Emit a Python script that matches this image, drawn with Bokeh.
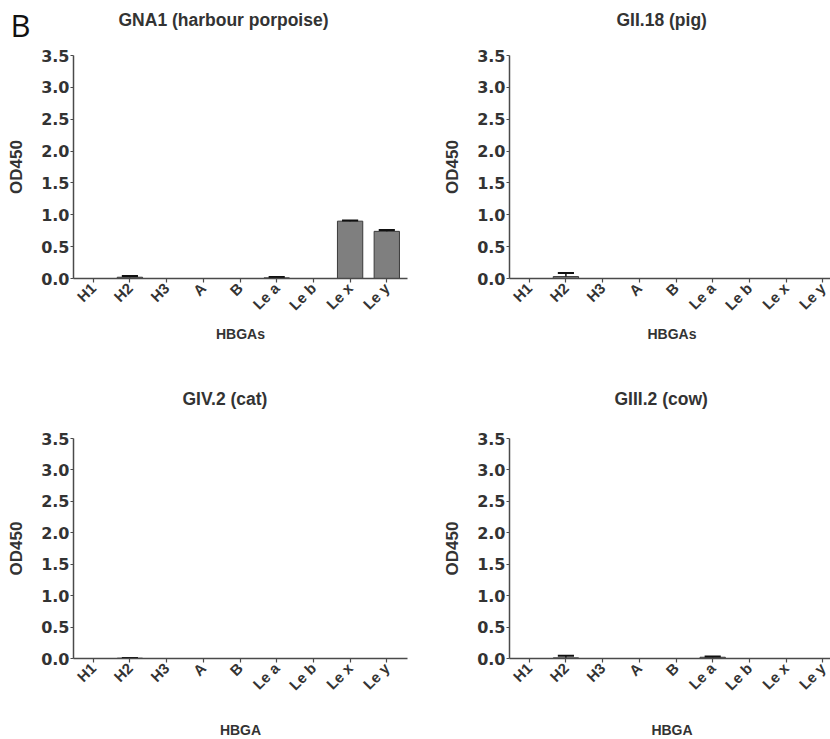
import numpy as np
from bokeh.plotting import figure
from bokeh.layouts import column, row
from bokeh.models import FixedTicker, Range1d, Label, PrintfTickFormatter
from bokeh.embed import file_html
from bokeh.resources import INLINE

categories = ["H1", "H2", "H3", "A", "B", "Le a", "Le b", "Le x", "Le y"]
y_ticks = [0.0, 0.5, 1.0, 1.5, 2.0, 2.5, 3.0, 3.5]

gna1_mean = [0.0, 0.02, 0.0, 0.0, 0.0, 0.01, 0.0, 0.90, 0.74]
gna1_sd = [0.0, 0.02, 0.0, 0.0, 0.0, 0.015, 0.0, 0.01, 0.02]

gii18_mean = [0.0, 0.03, 0.0, 0.0, 0.0, 0.0, 0.0, 0.0, 0.0]
gii18_sd = [0.0, 0.055, 0.0, 0.0, 0.0, 0.0, 0.0, 0.0, 0.0]

giv2_mean = [0.0, 0.005, 0.0, 0.0, 0.0, 0.0, 0.0, 0.0, 0.0]
giv2_sd = [0.0, 0.002, 0.0, 0.0, 0.0, 0.0, 0.0, 0.0, 0.0]

giii2_mean = [0.0, 0.01, 0.0, 0.0, 0.0, 0.02, 0.0, 0.0, 0.0]
giii2_sd = [0.0, 0.035, 0.0, 0.0, 0.0, 0.01, 0.0, 0.0, 0.0]

TXT = "#333333"
AX = "#4a4a4a"
FONT = "Liberation Sans"
TICKFONT = "DejaVu Sans"


def panel(title, mean, sd, xlabel, x_end, frame_w, frame_h, left, right, top, bottom,
          title_dx, title_dy, xlabel_standoff):
    p = figure(x_range=Range1d(0.463, x_end), y_range=Range1d(0, 3.5),
               frame_width=frame_w, frame_height=frame_h,
               min_border_left=left, min_border_right=right,
               min_border_top=top, min_border_bottom=bottom,
               output_backend="svg", toolbar_location=None, tools="")
    p.outline_line_color = None
    p.grid.visible = False
    p.background_fill_color = "white"
    p.border_fill_color = "white"
    p.title.visible = False

    # panel title, as a label in the space above the plot area
    p.add_layout(Label(x=title_dx, y=title_dy, x_units="screen", y_units="screen",
                       text=title, text_font=FONT, text_font_size="17.5px",
                       text_font_style="bold", text_color=TXT,
                       text_baseline="alphabetic"), "above")

    xs = [i + 1 for i in range(len(categories))]
    p.xaxis.ticker = FixedTicker(ticks=xs)
    p.xaxis.major_label_overrides = {x: c for x, c in zip(xs, categories)}
    p.xaxis.major_label_orientation = np.pi / 4
    p.xaxis.axis_label = xlabel
    p.xaxis.axis_label_standoff = xlabel_standoff

    p.yaxis.ticker = FixedTicker(ticks=y_ticks)
    p.yaxis.formatter = PrintfTickFormatter(format="%.1f")
    p.yaxis.axis_label = "OD450"
    p.yaxis.axis_label_standoff = 12

    for ax in (p.xaxis[0], p.yaxis[0]):
        ax.axis_line_color = AX
        ax.axis_line_width = 1.5
        ax.major_tick_line_color = AX
        ax.major_tick_line_width = 1.2
        ax.major_tick_in = 0
        ax.major_tick_out = 4
        ax.minor_tick_line_color = None
        ax.major_label_text_font = FONT
        ax.major_label_text_font_style = "bold"
        ax.major_label_text_color = TXT
        ax.axis_label_text_font = FONT
        ax.axis_label_text_font_style = "bold"
        ax.axis_label_text_color = TXT
        ax.major_label_standoff = 2
    p.yaxis.major_label_text_font = TICKFONT
    p.yaxis.major_label_text_font_size = "16px"
    p.yaxis.major_tick_out = 3
    p.yaxis.major_label_standoff = 1
    p.yaxis.axis_label_text_font_size = "17px"
    p.xaxis.axis_label_text_font_size = "14px"
    p.xaxis.major_label_text_font_size = "15px"
    p.xaxis.major_label_standoff = 3

    bx = [x for x, m in zip(xs, mean) if m > 0]
    bm = [m for m in mean if m > 0]
    p.vbar(x=bx, top=bm, bottom=0, width=0.69, fill_color="#7f7f7f",
           line_color="#3a3a3a", line_width=1)

    ex = [x for x, s in zip(xs, sd) if s > 0]
    lo = [m for m, s in zip(mean, sd) if s > 0]
    hi = [m + s for m, s in zip(mean, sd) if s > 0]
    cap = 0.22
    p.segment(x0=ex, y0=lo, x1=ex, y1=hi, line_color="#111111", line_width=1.5)
    p.segment(x0=[x - cap for x in ex], y0=hi, x1=[x + cap for x in ex], y1=hi,
              line_color="#111111", line_width=2)
    return p


tl = panel("GNA1 (harbour porpoise)", gna1_mean, gna1_sd, "HBGAs", 9.564, 334, 223,
           73, 33, 55, 94, 45, 36, 4)
tr = panel("GII.18 (pig)", gii18_mean, gii18_sd, "HBGAs", 9.319, 325, 223,
           65, 0, 55, 94, 107, 36, 4)
bl = panel("GIV.2 (cat)", giv2_mean, giv2_sd, "HBGA", 9.564, 334, 220,
           73, 33, 66, 81, 109, 40, 20)
br = panel("GIII.2 (cow)", giii2_mean, giii2_sd, "HBGA", 9.319, 325, 220,
           65, 0, 66, 81, 105, 40, 20)

# panel letter, placed in the (empty) right side panel of the first figure
tl.add_layout(Label(x=-397, y=254, x_units="screen", y_units="screen", text="B",
                    text_font="Open Sans", text_font_size="31px",
                    text_color="#111111", text_baseline="alphabetic"), "right")

layout = column(row(tl, tr), row(bl, br))
open("out.html", "w").write(file_html(layout, INLINE))
